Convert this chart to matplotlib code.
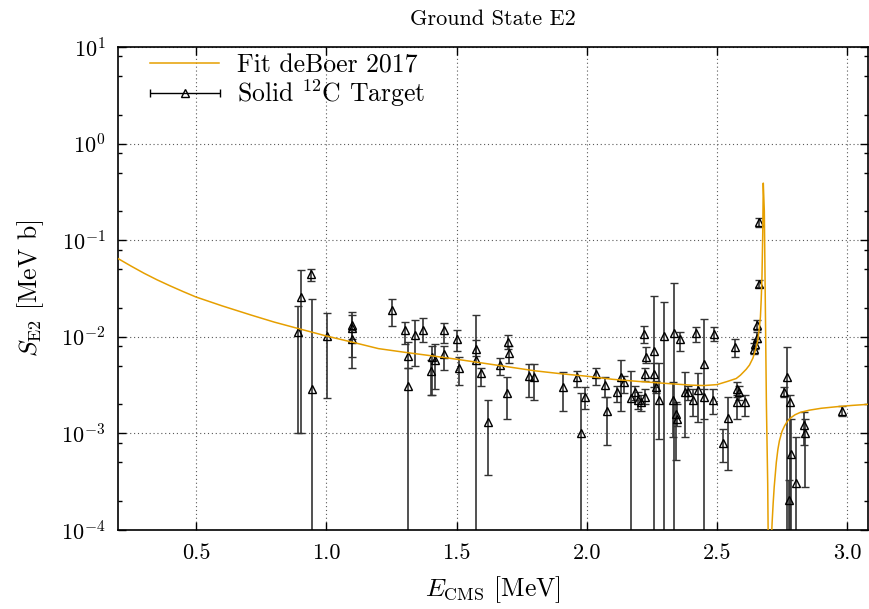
import numpy as np
import matplotlib
matplotlib.use('Agg')
import matplotlib.pyplot as plt
from matplotlib.ticker import FormatStrFormatter, LogLocator, NullFormatter
from matplotlib.legend_handler import HandlerErrorbar
from matplotlib.container import ErrorbarContainer

plt.rcParams['font.family'] = 'serif'
plt.rcParams['font.serif'] = ['cmr10']
plt.rcParams['mathtext.fontset'] = 'cm'
plt.rcParams['axes.formatter.use_mathtext'] = True

# fit curve (deBoer 2017)
fit_e = [0.200, 0.250, 0.300, 0.350, 0.400, 0.450, 0.500, 0.600, 0.711, 0.800,
         0.891, 1.000, 1.100, 1.200, 1.300, 1.400, 1.500, 1.600, 1.700, 1.800,
         1.900, 2.000, 2.100, 2.200, 2.300, 2.400, 2.450, 2.500, 2.540, 2.574,
         2.590, 2.612, 2.625, 2.638, 2.648, 2.657, 2.662, 2.667, 2.670, 2.673,
         2.676, 2.678, 2.682, 2.686, 2.690, 2.695, 2.700, 2.706, 2.712, 2.716,
         2.720, 2.728, 2.734, 2.740, 2.750, 2.760, 2.770, 2.785, 2.800, 2.820,
         2.855, 2.900, 2.960, 3.020, 3.080]
fit_s = [0.0646, 0.0540, 0.0455, 0.0389, 0.0337, 0.0294, 0.0258, 0.0209, 0.0168, 0.0142,
         0.0122, 0.0102, 0.0088, 0.00755, 0.00692, 0.00638, 0.00586, 0.00535, 0.00488, 0.00445,
         0.00415, 0.00391, 0.00363, 0.00345, 0.0033, 0.00316, 0.00313, 0.0032, 0.00345, 0.0037,
         0.0040, 0.0046, 0.0051, 0.0060, 0.0073, 0.0092, 0.0118, 0.016, 0.024, 0.0415,
         0.12, 0.39, 0.2, 0.02, 0.002, 0.0003, 0.00001, 0.00005, 0.00012, 0.00019,
         0.00028, 0.00050, 0.00068, 0.00084, 0.00105, 0.0012, 0.00133, 0.00146, 0.00156, 0.00165,
         0.00174, 0.00182, 0.00189, 0.00195, 0.0020]

# solid 12C target data: E_cms, S, lower bound, upper bound (0 = bar runs off the axis)
e_cms = [0.892, 0.902, 0.941, 0.946, 1.003, 1.100, 1.100, 1.100, 1.253, 1.301,
         1.312, 1.312, 1.340, 1.371, 1.404, 1.401, 1.416, 1.452, 1.452, 1.500,
         1.508, 1.574, 1.574, 1.593, 1.621, 1.666, 1.698, 1.700, 1.695, 1.777,
         1.797, 1.909, 1.964, 1.979, 1.995, 2.037, 2.071, 2.079, 2.117, 2.130,
         2.145, 2.171, 2.184, 2.196, 2.207, 2.222, 2.219, 2.229, 2.225, 2.258,
         2.260, 2.267, 2.277, 2.296, 2.335, 2.331, 2.341, 2.346, 2.359, 2.376,
         2.390, 2.408, 2.418, 2.427, 2.449, 2.452, 2.487, 2.484, 2.525, 2.542,
         2.570, 2.578, 2.583, 2.578, 2.606, 2.644, 2.647, 2.652, 2.655, 2.660,
         2.663, 2.757, 2.770, 2.779, 2.783, 2.776, 2.802, 2.836, 2.839, 2.981]
s_e2 = [0.0112, 0.0258, 0.0451, 0.00291, 0.0102, 0.0131, 0.0124, 0.0094, 0.0188, 0.0117,
        0.0064, 0.0031, 0.0104, 0.0119, 0.0062, 0.0044, 0.0058, 0.0117, 0.0066, 0.0096,
        0.0048, 0.0074, 0.0057, 0.0042, 0.00131, 0.0051, 0.0088, 0.0068, 0.0026, 0.0039,
        0.0038, 0.0030, 0.0038, 0.0010, 0.0024, 0.0041, 0.0032, 0.0017, 0.0027, 0.0038,
        0.0034, 0.0023, 0.0027, 0.0022, 0.0021, 0.0024, 0.0108, 0.0062, 0.0041, 0.0071,
        0.0041, 0.0030, 0.0022, 0.0101, 0.0109, 0.0022, 0.0016, 0.0014, 0.0096, 0.0027,
        0.0027, 0.0022, 0.0109, 0.0028, 0.0052, 0.0024, 0.0108, 0.0022, 0.00080, 0.00146,
        0.0078, 0.0029, 0.0027, 0.0021, 0.0021, 0.0075, 0.0084, 0.0098, 0.0131, 0.0355,
        0.155, 0.0027, 0.0038, 0.0021, 0.00061, 0.000204, 0.00031, 0.00122, 0.0010, 0.0017]
s_lo = [0.0010, 0.0010, 0.0375, 0, 0.0023, 0.0094, 0.0062, 0.0047, 0.0128, 0.0085,
        0.0047, 0, 0.0050, 0.0088, 0.0025, 0.0025, 0.0029, 0.0086, 0.0045, 0.0071,
        0.0032, 0.0063, 0, 0.0031, 0.00037, 0.0040, 0.0074, 0.0053, 0.0014, 0.0024,
        0.0022, 0.0017, 0.0030, 0, 0.0018, 0.0032, 0.0024, 0.00076, 0.0021, 0.0017,
        0.0026, 0, 0.0022, 0.0018, 0.0017, 0.0020, 0.0086, 0.0053, 0.0035, 0,
        0.0030, 0.0026, 0.00088, 0, 0, 0.00092, 0.00053, 0.0012, 0.0071, 0.00092,
        0.0022, 0.0015, 0.0088, 0.0013, 0, 0.0014, 0.0091, 0.0016, 0.00050, 0.00042,
        0.0062, 0.0024, 0.0022, 0.0014, 0.0015, 0.0066, 0.0074, 0.0088, 0.0119, 0.0326,
        0.136, 0.0024, 0, 0, 0, 0, 0, 0.00076, 0.00028, 0.0015]
s_hi = [0.0208, 0.0488, 0.0507, 0.0248, 0.0176, 0.0180, 0.0167, 0.0118, 0.0248, 0.0142,
        0.0088, 0.0047, 0.0151, 0.0158, 0.0081, 0.0058, 0.0085, 0.0139, 0.0080, 0.0119,
        0.0062, 0.0092, 0.0170, 0.0048, 0.00224, 0.0060, 0.0105, 0.0080, 0.0038, 0.0052,
        0.0052, 0.0043, 0.0044, 0.0026, 0.0030, 0.0048, 0.0038, 0.0024, 0.0031, 0.0057,
        0.0039, 0.0044, 0.0031, 0.0027, 0.0025, 0.0029, 0.0128, 0.0078, 0.0047, 0.0264,
        0.0053, 0.0035, 0.0053, 0.0229, 0.0363, 0.0034, 0.0021, 0.0020, 0.0112, 0.0043,
        0.0031, 0.0029, 0.0126, 0.0042, 0.0154, 0.0029, 0.0126, 0.0029, 0.0011, 0.0024,
        0.0094, 0.0034, 0.0031, 0.0025, 0.0025, 0.0086, 0.0094, 0.0111, 0.0148, 0.0390,
        0.171, 0.0030, 0.0078, 0.0025, 0.0014, 0.00033, 0.00091, 0.00167, 0.0014, 0.0019]

s = np.array(s_e2)
yerr = [s - np.array(s_lo), np.array(s_hi) - s]

fig = plt.figure(figsize=(8.69, 6.09), dpi=100)
ax = fig.add_axes([0.1358, 0.1297, 0.863, 0.7931])

ax.plot(fit_e, fit_s, color='#E69F00', lw=1.1, label='Fit deBoer 2017', zorder=3)
ax.errorbar(e_cms, s_e2, yerr=yerr, fmt='^', color='0.2', mfc='none', mec='k',
            ms=6, mew=1.0, elinewidth=1.2, capsize=3, capthick=1.2, zorder=2)

# legend proxy: horizontal bar like the gnuplot key
proxy = ax.errorbar([np.nan], [np.nan], xerr=[1.0], fmt='^', color='k', mfc='none',
                    ms=6, mew=1.0, elinewidth=1.0, capsize=3, label=r'Solid $^{12}$C Target')

ax.set_yscale('log')
ax.set_xlim(0.2, 3.08)
ax.set_ylim(1e-4, 10)
ax.xaxis.set_major_formatter(FormatStrFormatter('%.1f'))
ax.yaxis.set_minor_locator(LogLocator(base=10, subs=(2, 5, 8)))
ax.yaxis.set_minor_formatter(NullFormatter())
ax.tick_params(which='both', direction='in', top=True, right=True, labelsize=16, width=1.0)
ax.tick_params(axis='x', which='major', length=6, pad=10)
ax.tick_params(axis='y', which='major', length=6, pad=9)
ax.tick_params(which='minor', length=3)
for sp in ax.spines.values():
    sp.set_linewidth(1.2)
ax.grid(True, which='major', color='0.35', linestyle=(0, (1, 2.5)), lw=0.8)

ax.set_title('Ground State E2', fontsize=16, pad=16)
ax.set_xlabel(r'$E_{\rm CMS}$ [MeV]', fontsize=18.5, labelpad=8)
ax.set_ylabel(r'$S_{\rm E2}$ [MeV b]', fontsize=18.5, labelpad=11)

ax.legend(loc='upper left', bbox_to_anchor=(0.029, 1.008), frameon=False, fontsize=18.5,
          handlelength=2.7, handletextpad=0.7, labelspacing=0.0, borderaxespad=0.0,
          borderpad=0.4, numpoints=1,
          handler_map={ErrorbarContainer: HandlerErrorbar(xerr_size=1.36)})

fig.savefig('out.png', dpi=100)
